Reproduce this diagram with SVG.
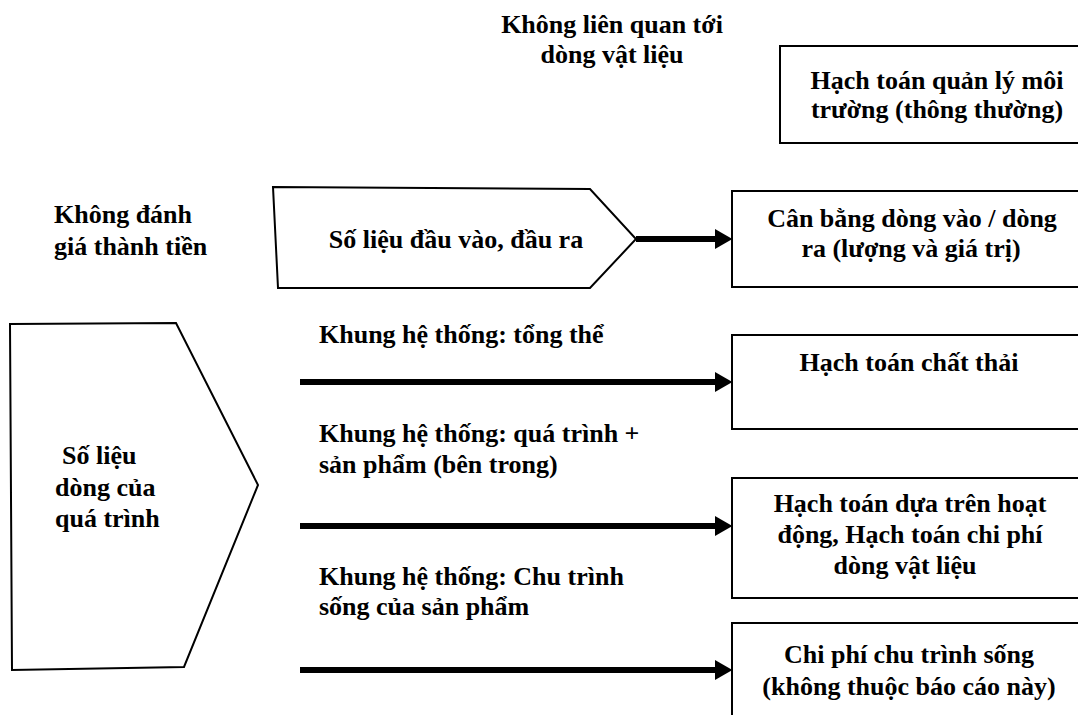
<svg xmlns="http://www.w3.org/2000/svg" width="1078" height="715" viewBox="0 0 1078 715">
  <style>
    .t { font-family: "Liberation Serif", "Times New Roman", serif; font-weight: bold; font-size: 26px; fill: #000; }
    .c { text-anchor: middle; }
    .shape { fill: #fff; stroke: #000; stroke-width: 2; }
    .flow { stroke: #000; stroke-width: 6; fill: none; marker-end: url(#head); }
  </style>
  <defs>
    <marker id="head" markerWidth="3" markerHeight="5" refX="0" refY="2.5" orient="auto" markerUnits="strokeWidth">
      <path d="M0,0.85 L2.9,2.5 L0,4.15 Z" fill="#000"/>
    </marker>
  </defs>
  <rect width="1078" height="715" fill="#fff"/>

  <!-- column / row headings -->
  <g id="heading-material">
    <text class="t c" x="612" y="33">Không liên quan tới</text>
    <text class="t c" x="612" y="63">dòng vật liệu</text>
  </g>
  <g id="heading-monetary">
    <text class="t" x="54" y="223">Không đánh</text>
    <text class="t" x="54" y="255">giá thành tiền</text>
  </g>

  <!-- connectors -->
  <g id="connectors">
    <line class="flow" x1="636" y1="239" x2="715" y2="239"/>
    <line class="flow" x1="300" y1="382" x2="715" y2="382"/>
    <line class="flow" x1="300" y1="526" x2="715" y2="526"/>
    <line class="flow" x1="300" y1="670" x2="715" y2="670"/>
  </g>

  <!-- input / output data -->
  <g id="input-output">
    <polygon class="shape" points="273,187 590,189 636,239 590,288 278,288"/>
    <text class="t c" x="456" y="248">Số liệu đầu vào, đầu ra</text>
  </g>

  <!-- process flow data -->
  <g id="process-flow">
    <polygon class="shape" points="10,324 176,323 258,485 184,667 12,670"/>
    <text class="t" x="62" y="464">Số liệu</text>
    <text class="t" x="55" y="496">dòng của</text>
    <text class="t" x="55" y="527">quá trình</text>
  </g>

  <!-- system boundary labels -->
  <g id="label-overall">
    <text class="t" x="319" y="343">Khung hệ thống: tổng thể</text>
  </g>
  <g id="label-process">
    <text class="t" x="319" y="442">Khung hệ thống: quá trình +</text>
    <text class="t" x="319" y="473">sản phẩm (bên trong)</text>
  </g>
  <g id="label-lifecycle">
    <text class="t" x="319" y="585">Khung hệ thống: Chu trình</text>
    <text class="t" x="319" y="615">sống của sản phẩm</text>
  </g>

  <!-- accounting methods -->
  <g id="ema">
    <rect class="shape" x="780" y="46" width="310" height="97"/>
    <text class="t c" x="937" y="89">Hạch toán quản lý môi</text>
    <text class="t c" x="937" y="118">trường (thông thường)</text>
  </g>
  <g id="balance">
    <rect class="shape" x="732" y="191" width="360" height="96"/>
    <text class="t c" x="912" y="227">Cân bằng dòng vào / dòng</text>
    <text class="t c" x="911" y="257">ra (lượng và giá trị)</text>
  </g>
  <g id="waste">
    <rect class="shape" x="732" y="335" width="360" height="94"/>
    <text class="t c" x="909" y="371">Hạch toán chất thải</text>
  </g>
  <g id="abc-mfca">
    <rect class="shape" x="732" y="478" width="360" height="120"/>
    <text class="t c" x="910" y="512">Hạch toán dựa trên hoạt</text>
    <text class="t c" x="910" y="543">động, Hạch toán chi phí</text>
    <text class="t c" x="905" y="574">dòng vật liệu</text>
  </g>
  <g id="lcc">
    <rect class="shape" x="732" y="623" width="360" height="110"/>
    <text class="t c" x="909" y="663">Chi phí chu trình sống</text>
    <text class="t c" x="909" y="695">(không thuộc báo cáo này)</text>
  </g>
</svg>
